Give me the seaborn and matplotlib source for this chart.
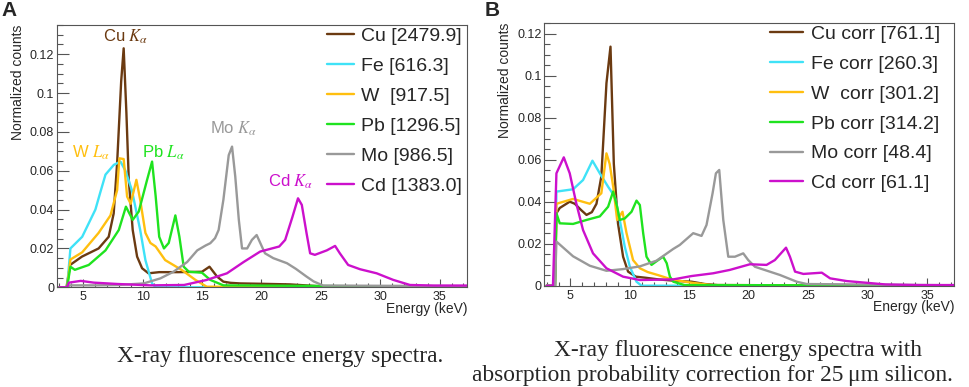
import matplotlib
matplotlib.use("Agg")
import numpy as np
import pandas as pd
import matplotlib.pyplot as plt
import seaborn as sns
from matplotlib.ticker import MultipleLocator, FuncFormatter

# ---- panel A: raw spectra (energy in keV, normalized counts) ----
a_cu_e = [3.0, 3.6, 3.9, 4.9, 6.3, 7.15, 7.57, 7.86, 8.2, 8.41, 8.64, 8.84, 9.17, 9.54, 9.96,
          10.5, 11.4, 13.0, 15.0, 15.63, 16.27, 16.8, 17.4, 18.2, 20.0, 22.4, 25.0, 27.0, 37.3]
a_cu_v = [0, 0, 0.0115, 0.0158, 0.020, 0.026, 0.038, 0.064, 0.106, 0.123, 0.0897, 0.0553, 0.0295,
          0.0158, 0.0098, 0.0072, 0.0078, 0.0078, 0.008, 0.0106, 0.0055, 0.0029, 0.0023, 0.002,
          0.0018, 0.0015, 0.0005, 0.0002, 0]

a_fe_e = [3.0, 3.65, 3.93, 4.92, 6.03, 6.45, 6.88, 7.58, 8.14, 8.56, 9.1, 9.8, 10.24, 10.8, 11.1, 37.3]
a_fe_v = [0, 0, 0.020, 0.026, 0.040, 0.049, 0.058, 0.063, 0.0647, 0.060, 0.050, 0.0295, 0.014,
          0.002, 0, 0]

a_w_e = [3.0, 3.65, 3.93, 4.92, 6.3, 7.3, 7.86, 8.05, 8.41, 8.7, 9.0, 9.48, 9.8, 10.24, 10.66,
         11.1, 11.9, 13.3, 14.45, 15.4, 37.3]
a_w_v = [0, 0, 0.0143, 0.018, 0.028, 0.037, 0.050, 0.0664, 0.066, 0.0467, 0.043, 0.0553, 0.045,
         0.028, 0.0228, 0.021, 0.014, 0.0089, 0.0038, 0.0003, 0]

a_pb_e = [3.0, 3.65, 3.93, 4.3, 5.47, 6.88, 8.0, 8.6, 9.17, 9.68, 10.38, 10.8, 11.1, 11.4, 11.8,
          12.2, 12.76, 13.1, 13.46, 13.9, 15.0, 15.7, 16.8, 37.3]
a_pb_v = [0, 0, 0.0106, 0.009, 0.0115, 0.019, 0.0295, 0.0415, 0.0347, 0.039, 0.0553, 0.0647, 0.047,
          0.026, 0.020, 0.0228, 0.037, 0.026, 0.0106, 0.008, 0.0075, 0.0038, 0.001, 0.0002]

a_mo_e = [3.0, 3.65, 3.9, 6.0, 8.0, 10.1, 11.5, 12.6, 13.75, 14.6, 15.3, 15.7, 16.1, 16.4, 16.8,
          17.25, 17.53, 17.8, 18.1, 18.37, 18.8, 19.2, 19.6, 20.3, 21.0, 22.15, 22.9, 23.8, 24.4,
          25.2, 37.3]
a_mo_v = [0, 0, 0.001, 0.001, 0.0012, 0.002, 0.0046, 0.008, 0.013, 0.019, 0.0215, 0.0227, 0.0253,
          0.0295, 0.045, 0.068, 0.0724, 0.057, 0.0347, 0.020, 0.020, 0.0244, 0.0269, 0.0175,
          0.015, 0.0124, 0.0095, 0.0055, 0.003, 0.0009, 0.0006]

a_cd_e = [3.0, 3.65, 3.8, 4.8, 5.9, 7.9, 10.7, 13.5, 15.4, 17.1, 18.5, 19.9, 21.5, 22.0, 22.6,
          23.08, 23.4, 23.8, 24.1, 24.5, 25.5, 26.2, 26.6, 27.3, 28.3, 29.7, 31.1, 32.5, 34.5, 37.3]
a_cd_v = [0, 0, 0.0024, 0.0033, 0.0024, 0.0017, 0.001, 0.0012, 0.0038, 0.0072, 0.013, 0.0184, 0.021,
          0.0244, 0.036, 0.0458, 0.0424, 0.0278, 0.0175, 0.0167, 0.019, 0.0213, 0.0175, 0.0115,
          0.0093, 0.0072, 0.0038, 0.0012, 0.0009, 0.0009]

a_labels = ["Cu [2479.9]", "Fe [616.3]", "W  [917.5]", "Pb [1296.5]", "Mo [986.5]", "Cd [1383.0]"]

# ---- panel B: absorption corrected spectra ----
b_cu_e = [3.0, 3.7, 3.82, 4.1, 4.94, 5.37, 5.9, 6.35, 6.8, 7.19, 7.6, 8.03, 8.37, 8.65, 9.0, 9.43,
          9.85, 10.5, 11.3, 12.4, 14.1, 15.2, 16.3, 17.4, 37.3]
b_cu_v = [0, 0, 0.0345, 0.037, 0.040, 0.039, 0.036, 0.0337, 0.035, 0.039, 0.052, 0.0964, 0.1138,
          0.058, 0.0297, 0.0138, 0.0067, 0.0043, 0.0038, 0.003, 0.0022, 0.0019, 0.0008, 0.0003, 0]

b_fe_e = [3.0, 3.7, 3.82, 5.22, 6.06, 6.85, 7.47, 8.17, 8.73, 9.15, 9.57, 10.0, 10.56, 10.98, 37.3]
b_fe_v = [0, 0, 0.0448, 0.0459, 0.0503, 0.0595, 0.0535, 0.0471, 0.0424, 0.0313, 0.0186, 0.009,
          0.0019, 0, 0]

b_w_e = [3.0, 3.7, 3.82, 5.22, 6.63, 7.6, 8.03, 8.3, 8.6, 8.93, 9.38, 9.72, 10.27, 10.84, 11.5,
         12.4, 13.5, 15.2, 16.9, 37.3]
b_w_v = [0, 0, 0.039, 0.0413, 0.039, 0.044, 0.063, 0.058, 0.047, 0.0313, 0.0352, 0.025, 0.0122,
         0.0083, 0.0065, 0.005, 0.003, 0.0014, 0.0003, 0]

b_pb_e = [3.0, 3.7, 3.82, 4.1, 5.22, 6.35, 7.47, 8.17, 8.59, 8.93, 9.15, 9.57, 10.14, 10.56, 10.84,
          11.12, 11.4, 11.82, 12.38, 12.8, 13.1, 13.37, 13.65, 14.6, 37.3]
b_pb_v = [0, 0, 0.0345, 0.0297, 0.0294, 0.0313, 0.033, 0.0376, 0.0448, 0.0376, 0.0313, 0.032,
          0.0352, 0.0405, 0.0384, 0.025, 0.0138, 0.0099, 0.0122, 0.0138, 0.0107, 0.0043, 0.0019,
          0.0003, 0.0001]

b_mo_e = [3.0, 3.7, 3.82, 5.22, 6.63, 8.03, 9.43, 10.84, 12.24, 13.65, 14.2, 15.33, 16.03, 16.45,
          16.96, 17.24, 17.52, 17.86, 18.28, 18.84, 19.54, 19.96, 20.53, 22.63, 24.04, 24.88, 37.3]
b_mo_v = [0, 0, 0.021, 0.014, 0.0095, 0.0071, 0.0079, 0.0092, 0.0119, 0.0175, 0.0194, 0.025,
          0.0237, 0.0289, 0.044, 0.0535, 0.0551, 0.0313, 0.0138, 0.0138, 0.0154, 0.0122, 0.009,
          0.0051, 0.0019, 0.0008, 0.0002]

b_cd_e = [3.0, 3.53, 3.82, 4.44, 4.94, 5.5, 6.06, 6.9, 8.03, 9.43, 10.84, 13.65, 15.2, 17.0, 18.4,
          20.1, 21.5, 22.2, 23.14, 23.47, 23.9, 24.6, 26.15, 26.85, 28.25, 29.9, 31.5, 34.3, 37.3]
b_cd_v = [0, 0, 0.0535, 0.0611, 0.0535, 0.039, 0.0265, 0.0154, 0.0083, 0.0043, 0.0027, 0.003,
          0.0046, 0.0059, 0.0075, 0.0102, 0.0099, 0.0122, 0.0181, 0.0138, 0.0067, 0.0056, 0.0062,
          0.0035, 0.0022, 0.0014, 0.0006, 0.0003, 0.0003]

b_labels = ["Cu corr [761.1]", "Fe corr [260.3]", "W  corr [301.2]", "Pb corr [314.2]",
            "Mo corr [48.4]", "Cd corr [61.1]"]

colors = ["#6b3a11", "#3fe2f7", "#ffbf0f", "#1fe31f", "#999999", "#cc10cc"]

# peak annotations on panel A: text, energy, counts, colour index
peak_text = [r"Cu $K_\alpha$", r"W $L_\alpha$", r"Pb $L_\alpha$", r"Mo $K_\alpha$", r"Cd $K_\alpha$"]
peak_e = [8.56, 5.68, 11.78, 17.7, 22.43]
peak_v = [0.1289, 0.0693, 0.0693, 0.0814, 0.0544]
peak_c = [0, 2, 3, 4, 5]


def build_frame(energies, counts, labels):
    parts = []
    for e, c, lab in zip(energies, counts, labels):
        parts.append(pd.DataFrame({"energy": e, "counts": c, "label": lab}))
    return pd.concat(parts, ignore_index=True)


df_a = build_frame([a_cu_e, a_fe_e, a_w_e, a_pb_e, a_mo_e, a_cd_e],
                   [a_cu_v, a_fe_v, a_w_v, a_pb_v, a_mo_v, a_cd_v], a_labels)
df_b = build_frame([b_cu_e, b_fe_e, b_w_e, b_pb_e, b_mo_e, b_cd_e],
                   [b_cu_v, b_fe_v, b_w_v, b_pb_v, b_mo_v, b_cd_v], b_labels)

sns.set_theme(style="ticks")
plt.rcParams["font.family"] = ["Liberation Sans", "DejaVu Sans"]
plt.rcParams["mathtext.fontset"] = "stix"

W, H = 969, 387
fig = plt.figure(figsize=(W / 100, H / 100), dpi=100)
ax_a = fig.add_axes([57 / W, 1 - 287.3 / H, 410 / W, 262.3 / H])
ax_b = fig.add_axes([544.3 / W, 1 - 285.7 / H, 410 / W, 263 / H])


def draw_panel(ax, df, labels, ymax, leg_x, handlelen, textpad):
    sns.lineplot(data=df, x="energy", y="counts", hue="label", hue_order=labels,
                 palette=dict(zip(labels, colors)), estimator=None, sort=False,
                 linewidth=1.7, ax=ax)
    ax.set_xlim(2.8, 37.3)
    ax.set_ylim(0, ymax)
    ax.xaxis.set_major_locator(MultipleLocator(5))
    ax.xaxis.set_minor_locator(MultipleLocator(1))
    ax.yaxis.set_major_locator(MultipleLocator(0.02))
    ax.yaxis.set_minor_locator(MultipleLocator(0.005))
    ax.yaxis.set_major_formatter(FuncFormatter(lambda v, _: "%g" % round(v, 4)))
    ax.tick_params(axis="both", which="both", direction="in", labelsize=9,
                   color="#555555", top=False, right=False)
    ax.tick_params(axis="y", which="major", length=8.5, width=0.8, pad=2)
    ax.tick_params(axis="y", which="minor", length=4.5, width=0.8)
    ax.tick_params(axis="x", which="major", length=6, width=0.8, pad=3)
    ax.tick_params(axis="x", which="minor", length=3, width=0.8)
    for s in ax.spines.values():
        s.set_color("#555555")
        s.set_linewidth(0.8)
    ax.set_xlabel("Energy (keV)", fontsize=10, ha="right", va="top")
    ax.xaxis.set_label_coords(1.0, -0.055)
    ax.set_ylabel("Normalized counts", fontsize=10, ha="right", va="bottom")
    ax.yaxis.set_label_coords(-0.078, 1.0)
    handles, labs = ax.get_legend_handles_labels()
    ax.legend(handles, labs, loc="upper left", bbox_to_anchor=(leg_x, 0.99), frameon=False,
              fontsize=14, handlelength=handlelen, handletextpad=textpad, labelspacing=0.63,
              borderpad=0, borderaxespad=0)


draw_panel(ax_a, df_a, a_labels, 0.135, 0.6585, 1.4, 0.35)
draw_panel(ax_b, df_b, b_labels, 0.1252, 0.5505, 1.7, 0.43)

for txt, e, v, ci in zip(peak_text, peak_e, peak_v, peak_c):
    ax_a.text(e, v, txt, color=colors[ci], fontsize=12, ha="center", va="center")

fig.text(1 / W, 1 - 1 / H, "A", fontsize=15, fontweight="bold", ha="left", va="top")
fig.text(485 / W, 1 - 1 / H, "B", fontsize=15, fontweight="bold", ha="left", va="top")

serif = ["Liberation Serif", "DejaVu Serif"]
fig.text(280 / W, 1 - 362 / H, "X-ray fluorescence energy spectra.", family=serif,
         fontsize=16.8, ha="center", va="baseline")
fig.text(738 / W, 1 - 356 / H, "X-ray fluorescence energy spectra with", family=serif,
         fontsize=16.8, ha="center", va="baseline")
fig.text(712 / W, 1 - 381 / H, "absorption probability correction for 25\u2009\u03bcm silicon.",
         family=serif, fontsize=16.8, ha="center", va="baseline")

fig.savefig("out.png", dpi=100)
